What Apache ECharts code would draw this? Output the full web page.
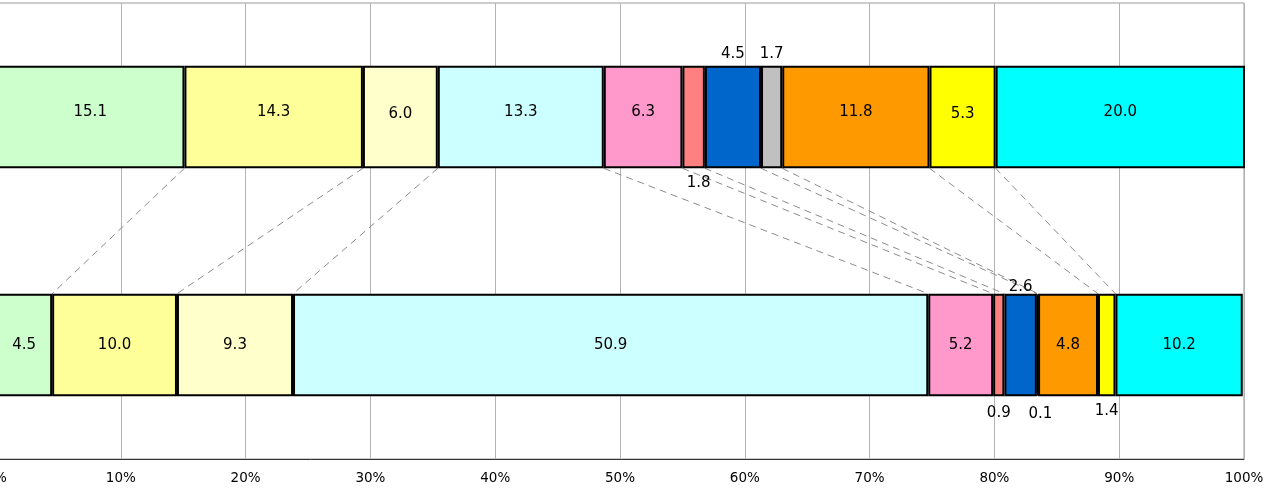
<!DOCTYPE html>
<html>
<head>
<meta charset="utf-8">
<script src="https://cdn.jsdelivr.net/npm/echarts@6/dist/echarts.min.js"></script>
<style>
  html, body { margin: 0; padding: 0; background: #fff; }
  #chart { width: 1278px; height: 490px; }
</style>
</head>
<body>
<div id="chart"></div>
<script>
// Two 100% stacked bars, segment boundaries linked by dashed connectors.
const rows = ['Upper', 'Lower'];
const upperValues = [15.1, 14.3, 6.0, 13.3, 6.3, 1.8, 4.5, 1.7, 11.8, 5.3, 20.0];
const lowerValues = [4.5, 10.0, 9.3, 50.9, 5.2, 0.9, 2.6, 0.1, 4.8, 1.4, 10.2];
const segmentNames = ['S1', 'S2', 'S3', 'S4', 'S5', 'S6', 'S7', 'S8', 'S9', 'S10', 'S11'];
const xTicks = [0, 10, 20, 30, 40, 50, 60, 70, 80, 90, 100];

const colors = ['#CCFFCC', '#FFFF99', '#FFFFCC', '#CCFFFF', '#FF99CC', '#FF8080',
                '#0066CC', '#C0C0C0', '#FF9900', '#FFFF00', '#00FFFF'];

const BAR_FRACTION = 0.45;
const FONT = 'DejaVu Sans';

// Label placement for each row: small segments get their value outside the bar.
const labelStyle = {
  0: { // upper row
    default: { position: 'inside', offset: [0, -5] },
    2: { position: 'inside', offset: [0, -3] },
    5: { position: 'bottom', distance: 7, offset: [5, 0] },
    6: { position: 'top', distance: 4, offset: [0, 0] },
    7: { position: 'top', distance: 4, offset: [0, 0] },
    9: { position: 'inside', offset: [0, -3] }
  },
  1: { // lower row
    default: { position: 'inside', offset: [0, 0] },
    5: { position: 'bottom', distance: 9 },
    6: { position: 'top', distance: -1 },
    7: { position: 'bottom', distance: 10, offset: [3, 0] },
    9: { position: 'bottom', distance: 7 }
  }
};

function cumulative(arr) {
  const out = [];
  let s = 0;
  for (let i = 0; i < arr.length - 1; i++) { s += arr[i]; out.push(+s.toFixed(1)); }
  return out;
}
const upperEdges = cumulative(upperValues);
const lowerEdges = cumulative(lowerValues);
const connectorData = upperEdges.map((u, i) => [u, lowerEdges[i]]);

const barSeries = segmentNames.map((name, si) => ({
  name: name,
  type: 'bar',
  stack: 'total',
  barWidth: (BAR_FRACTION * 100) + '%',
  clip: true,
  z: 3,
  itemStyle: { color: colors[si], borderColor: '#000', borderWidth: 2 },
  label: {
    show: true,
    color: '#000',
    fontFamily: FONT,
    fontSize: 15,
    formatter: p => Number(p.value).toFixed(1)
  },
  data: [upperValues[si], lowerValues[si]].map((v, ri) => {
    const st = Object.assign({}, labelStyle[ri].default, labelStyle[ri][si] || {});
    return { value: v, label: st };
  })
}));

const connectorSeries = {
  type: 'custom',
  name: 'connectors',
  z: 2,
  silent: true,
  encode: { x: [0, 1] },
  renderItem: function (params, api) {
    const band = api.size([0, 1])[1];
    const half = band * BAR_FRACTION / 2;
    const p1 = api.coord([api.value(0), 0]);
    const p2 = api.coord([api.value(1), 1]);
    return {
      type: 'line',
      shape: { x1: p1[0], y1: p1[1] + half, x2: p2[0], y2: p2[1] - half },
      style: { stroke: '#8c8c8c', lineWidth: 1, lineDash: [7, 5] }
    };
  },
  data: connectorData
};

const chart = echarts.init(document.getElementById('chart'));
chart.setOption({
  animation: false,
  backgroundColor: '#fff',
  grid: {
    left: -4, right: 34, top: 3, bottom: 31,
    containLabel: false,
    outerBoundsMode: 'none',
    show: true, borderColor: '#999', borderWidth: 1
  },
  xAxis: {
    type: 'value',
    min: xTicks[0],
    max: xTicks[xTicks.length - 1],
    interval: xTicks[1] - xTicks[0],
    axisLine: { show: true, lineStyle: { color: '#333', width: 1 } },
    axisTick: { show: false },
    splitLine: { show: true, lineStyle: { color: '#b4b4b4', width: 1 } },
    axisLabel: {
      color: '#000', fontFamily: FONT, fontSize: 13.5, margin: 12,
      hideOverlap: false,
      formatter: '{value}%'
    }
  },
  yAxis: {
    type: 'category',
    data: rows,
    inverse: true,
    axisLine: { show: false },
    axisTick: { show: false },
    axisLabel: { show: false }
  },
  series: [connectorSeries].concat(barSeries)
});
</script>
</body>
</html>
